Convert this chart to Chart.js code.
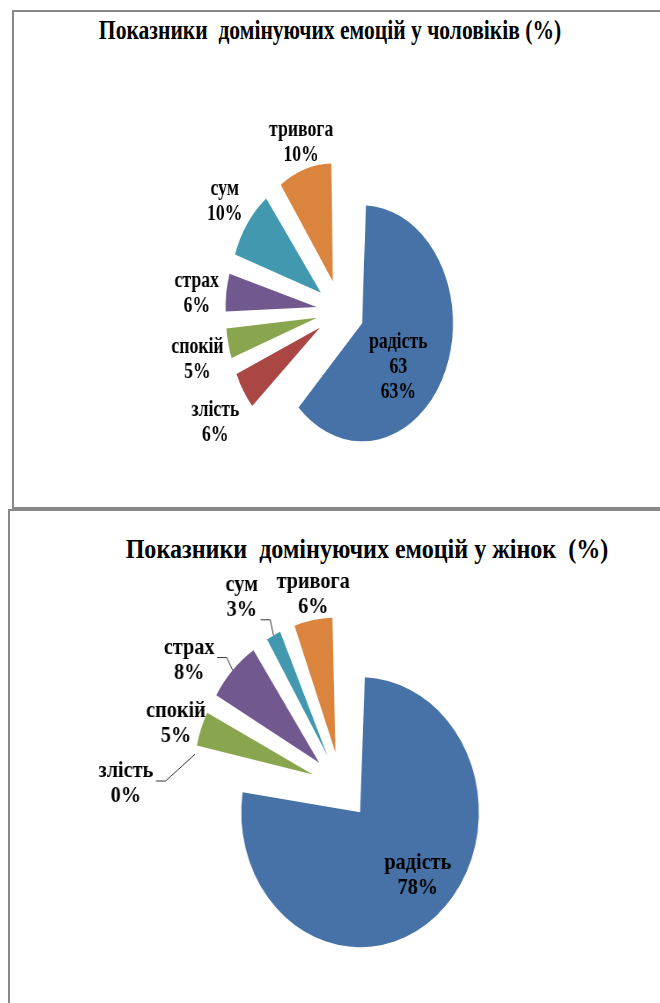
<!DOCTYPE html>
<html>
<head>
<meta charset="utf-8">
<script src="https://cdn.jsdelivr.net/npm/chart.js@4"></script>
<style>
  body { margin:0; background:#fff; width:660px; height:1003px; overflow:hidden; position:relative; }
  .box { position:absolute; border:2px solid #888; }
  #box1 { left:12px; top:10px; width:700px; height:495px; }
  #box2 { left:8px; top:509px; width:700px; height:600px; }
  .title { position:absolute; width:800px; text-align:center; white-space:pre; color:#000;
           font:bold 28px "Liberation Serif", "Times New Roman", serif; line-height:28px; transform-origin:50% 0; }
  #title1 { left:-70px; top:16px; transform:scaleX(0.77); }
  #title2 { left:-33px; top:535px; transform:scaleX(0.86); }
  canvas { position:absolute; transform-origin:0 0; }
  #men { left:140px; top:101px; transform:scaleX(0.77); }
  #women { left:77px; top:556px; transform:scaleX(0.88); }
</style>
</head>
<body>
<div class="box" id="box1"></div>
<div class="box" id="box2"></div>
<div class="title" id="title1">Показники  домінуючих емоцій у чоловіків (%)</div>
<div class="title" id="title2">Показники  домінуючих емоцій у жінок  (%)</div>
<canvas id="men" width="520" height="420"></canvas>
<canvas id="women" width="600" height="460"></canvas>

<script>
/* ---------- DATA ---------- */
var emotions    = ['радість', 'злість', 'спокій', 'страх', 'сум', 'тривога'];
var menValues   = [63, 6, 5, 6, 10, 10];
var womenValues = [78, 0, 5, 8, 3, 6];
// Excel showed the raw value only on the big slice of the men's chart
var menShowValue   = [true, false, false, false, false, false];
var womenShowValue = [false, false, false, false, false, false];

/* ---------- STYLE ---------- */
var sliceColors = ['#4672A8', '#AA4744', '#89A54E', '#71598F', '#4298AF', '#DB843D'];
var labelFont = 'bold 23px "Liberation Serif", "Times New Roman", serif';

/* how far each label sits from its default spot (unscaled px);
   the big moves get a leader line, like in Excel */
var menLabelShift   = [[-18, 16], [-5, 15], [-1, 9], [-4, 5], [-6, -4], [10, 3]];
var womenLabelShift = [[14, 1], [-42, 35], [9, 5], [-24, 11], [-25, -10], [9, 5]];

/* ---------- LABEL PLUGIN ---------- */
var sliceLabels = {
  id: 'sliceLabels',
  // Chart.js grows an offset slice's radius by offset/4*fix; take that back
  // so every exploded slice keeps the same radius
  beforeDatasetsDraw: function(chart, args, o) {
    chart.getDatasetMeta(0).data.forEach(function(arc) {
      var fix = 1 - Math.sin(Math.min(Math.PI, arc.circumference || 0));
      arc.outerRadius = o.radius - o.explode * fix;
    });
  },
  afterDatasetsDraw: function(chart, args, o) {
    var ctx = chart.ctx;
    var meta = chart.getDatasetMeta(0);
    var vals = chart.data.datasets[0].data;
    var total = vals.reduce(function(a, b) { return a + b; }, 0);
    var R = o.radius;
    ctx.save();
    ctx.font = o.font;
    ctx.fillStyle = '#000';
    ctx.textAlign = 'center';
    ctx.textBaseline = 'middle';
    meta.data.forEach(function(arc, i) {
      var p = arc.getProps(['x', 'y', 'startAngle', 'endAngle'], true);
      var mid = (p.startAngle + p.endAngle) / 2;
      var cos = Math.cos(mid), sin = Math.sin(mid);
      var lines = [chart.data.labels[i]];
      if (o.showValue[i]) lines.push(String(vals[i]));
      lines.push(Math.round(vals[i] / total * 100) + '%');
      var w = Math.max.apply(null, lines.map(function(t) { return ctx.measureText(t).width; }));
      var h = lines.length * o.lineHeight;
      var inside = vals[i] / total > 0.3;
      var cx, cy;
      if (inside) {
        var ri = o.explode + R * o.insideAt;
        cx = p.x + cos * ri;
        cy = p.y + sin * ri;
      } else {
        var ro = o.explode + R + o.gap;
        cx = p.x + cos * ro + cos * w / 2;
        cy = p.y + sin * ro + sin * h / 2;
      }
      var sh = o.shift[i];
      cx += sh[0];
      cy += sh[1];
      if (!inside && Math.hypot(sh[0], sh[1]) > 20) {
        // leader line back to the slice
        var ax = p.x + cos * (o.explode + R);
        var ay = p.y + sin * (o.explode + R);
        var bx = cx + w / 2 + 3;
        var by = ay > cy + h / 2 ? cy + h / 2 - 3 : cy - h / 2 + o.lineHeight * 0.9;
        ctx.beginPath();
        ctx.moveTo(bx, by);
        ctx.lineTo(bx + 11, by);
        ctx.lineTo(ax, ay);
        ctx.strokeStyle = '#333';
        ctx.lineWidth = 1;
        ctx.stroke();
      }
      lines.forEach(function(t, k) {
        ctx.fillText(t, cx, cy - h / 2 + o.lineHeight * (k + 0.5));
      });
    });
    ctx.restore();
  }
};

/* ---------- BUILD A PIE ---------- */
function makePie(id, values, radius, explode, showValue, shift) {
  return new Chart(document.getElementById(id), {
    type: 'pie',
    data: {
      labels: emotions,
      datasets: [{
        data: values,
        backgroundColor: sliceColors,
        borderWidth: 0,
        offset: explode * 4   // Chart.js moves a slice by offset/4
      }]
    },
    options: {
      responsive: false,
      animation: false,
      events: [],
      radius: radius,
      plugins: {
        legend: { display: false },
        tooltip: { enabled: false },
        sliceLabels: {
          font: labelFont, lineHeight: 25, gap: 6, insideAt: 0.6,
          radius: radius, explode: explode, showValue: showValue, shift: shift
        }
      }
    },
    plugins: [sliceLabels]
  });
}

makePie('men', menValues, 118, 31, menShowValue, menLabelShift);
makePie('women', womenValues, 135, 34, womenShowValue, womenLabelShift);
</script>
</body>
</html>
